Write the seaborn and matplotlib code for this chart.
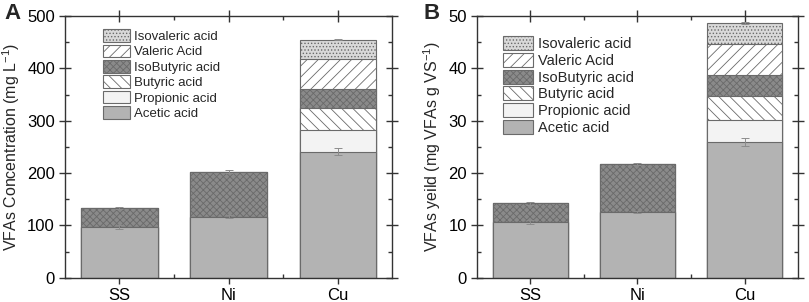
import numpy as np
import pandas as pd
import seaborn as sns
from matplotlib import pyplot as plt

samples = ['SS', 'Ni', 'Cu']
acids = ['Acetic acid', 'Propionic acid', 'Butyric acid', 'IsoButyric acid', 'Valeric Acid', 'Isovaleric acid']

# panel A, mg/L
conc_acetic = [97, 117, 241]
conc_propionic = [0, 0, 41]
conc_butyric = [0, 0, 42]
conc_isobutyric = [36, 86, 37]
conc_valeric = [0, 0, 56]
conc_isovaleric = [0, 0, 38]
conc_err_acetic = [3, 3, 7]
conc_err_top = [1.5, 2, 1.5]

# panel B, mg VFAs / g VS
yield_acetic = [10.6, 12.6, 25.9]
yield_propionic = [0, 0, 4.3]
yield_butyric = [0, 0, 4.5]
yield_isobutyric = [3.6, 9.1, 4.0]
yield_valeric = [0, 0, 5.9]
yield_isovaleric = [0, 0, 4.0]
yield_err_acetic = [0.4, 0.2, 0.8]
yield_err_top = [0.2, 0.2, 0.2]

styles = {
    'Acetic acid': dict(color='#b3b3b3', hatch=None),
    'Propionic acid': dict(color='#f3f3f3', hatch=None),
    'Butyric acid': dict(color='white', hatch='\\\\\\'),
    'IsoButyric acid': dict(color='#8a8a8a', hatch='xxxxx'),
    'Valeric Acid': dict(color='white', hatch='///'),
    'Isovaleric acid': dict(color='#d9d9d9', hatch='.....'),
}

sns.set_theme(style='ticks')
plt.rcParams['font.family'] = ['Liberation Sans', 'DejaVu Sans']
plt.rcParams['hatch.linewidth'] = 0.6
plt.rcParams['mathtext.default'] = 'regular'


def draw_panel(ax, parts, err_acetic, err_top, ylim, ymajor, yminor, ylabel, leg_anchor, leg_size):
    df = pd.DataFrame(parts, index=samples)
    cum = df.cumsum(axis=1)
    # draw tallest first so shorter stacks sit on top
    for acid in acids[::-1]:
        st = styles[acid]
        sns.barplot(x=samples, y=cum[acid].values, ax=ax, color=st['color'], hatch=st['hatch'],
                    edgecolor='#6a6a6a', linewidth=0.8, width=0.7, saturation=1, label=acid,
                    errorbar=None)
    pos = np.arange(len(samples))
    ax.errorbar(pos, cum['Acetic acid'].values, yerr=err_acetic, fmt='none', ecolor='#8c8c8c',
                elinewidth=0.7, capsize=3, capthick=0.7, zorder=5)
    ax.errorbar(pos, cum[acids[-1]].values, yerr=err_top, fmt='none', ecolor='#8c8c8c',
                elinewidth=0.7, capsize=3, capthick=0.7, zorder=5)
    ax.set_xlim(-0.5, 2.5)
    ax.set_ylim(*ylim)
    ax.set_yticks(np.arange(ylim[0], ylim[1] + 1, ymajor))
    ax.set_yticks(np.arange(ylim[0], ylim[1] + 1, yminor), minor=True)
    ax.set_xticks([0.5, 1.5], minor=True)
    for side in ['top', 'right', 'left', 'bottom']:
        ax.spines[side].set_visible(True)
        ax.spines[side].set_color('#333333')
        ax.spines[side].set_linewidth(1.0)
    ax.tick_params(which='major', direction='inout', length=8, width=1, top=True, right=True,
                   labelsize=12, colors='#333333', labelcolor='black', pad=3)
    ax.tick_params(which='minor', direction='in', length=3, width=1, top=True, right=True,
                   colors='#333333')
    ax.set_ylabel(ylabel, fontsize=11.5, labelpad=4)
    ax.set_xlabel('')
    h, l = ax.get_legend_handles_labels()
    ax.legend(h, l, loc='upper left', bbox_to_anchor=leg_anchor, frameon=False, fontsize=leg_size,
              handlelength=2.1, handleheight=1.1, labelspacing=0.12, handletextpad=0.3,
              borderpad=0.2)


fig = plt.figure(figsize=(8.09, 3.02), dpi=100)
ax1 = fig.add_axes([0.080, 0.080, 0.405, 0.867])
ax2 = fig.add_axes([0.589, 0.080, 0.398, 0.867])

draw_panel(ax1, {'Acetic acid': conc_acetic, 'Propionic acid': conc_propionic,
                 'Butyric acid': conc_butyric, 'IsoButyric acid': conc_isobutyric,
                 'Valeric Acid': conc_valeric, 'Isovaleric acid': conc_isovaleric},
           conc_err_acetic, conc_err_top, (0, 500), 100, 50,
           'VFAs Concentration (mg L$^{-1}$)', (0.088, 0.985), 9.5)
draw_panel(ax2, {'Acetic acid': yield_acetic, 'Propionic acid': yield_propionic,
                 'Butyric acid': yield_butyric, 'IsoButyric acid': yield_isobutyric,
                 'Valeric Acid': yield_valeric, 'Isovaleric acid': yield_isovaleric},
           yield_err_acetic, yield_err_top, (0, 50), 10, 5,
           'VFAs yeild (mg VFAs g VS$^{-1}$)', (0.05, 0.962), 10.5)

fig.text(0.006, 0.955, 'A', fontsize=16, fontweight='bold', ha='left', va='center')
fig.text(0.524, 0.955, 'B', fontsize=16, fontweight='bold', ha='left', va='center')

plt.savefig('out.png', dpi=100)
plt.close()
